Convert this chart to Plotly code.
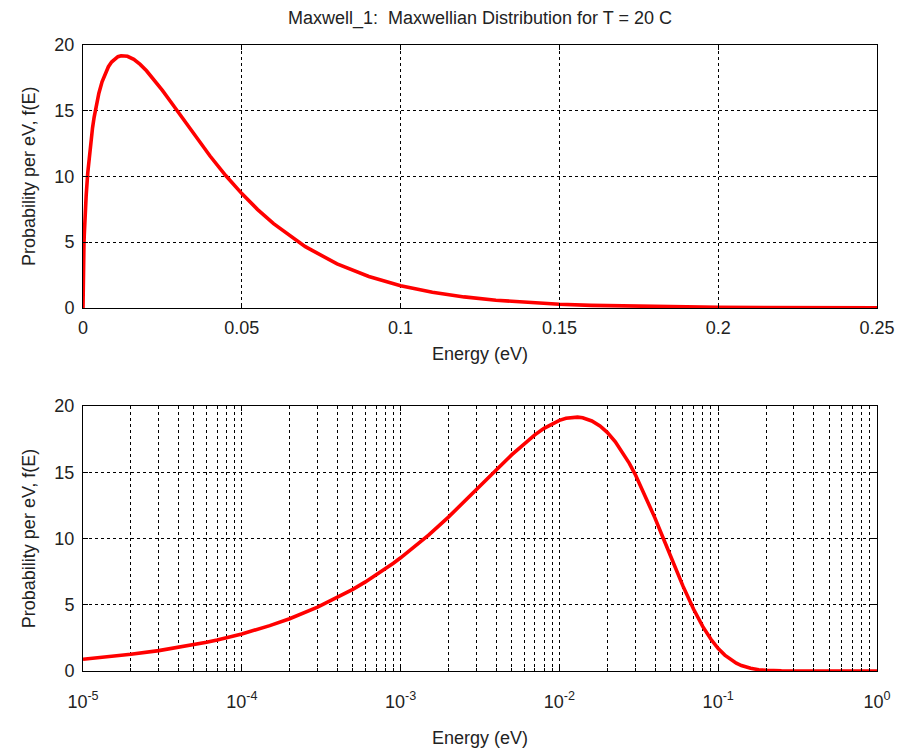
import plotly.graph_objects as go

# Energy (eV) and probability per eV
energy = [1e-5, 1.5e-5, 2e-5, 3e-5, 4e-5, 5e-5, 6e-5, 7e-5, 8e-5, 9e-5,
          1e-4, 1.5e-4, 2e-4, 3e-4, 4e-4, 5e-4, 6e-4, 7e-4, 8e-4, 9e-4,
          1e-3, 1.5e-3, 2e-3, 2.5e-3, 3e-3, 3.5e-3, 4e-3, 5e-3, 6e-3, 7e-3, 8e-3, 9e-3,
          0.010, 0.011, 0.012, 0.013, 0.014, 0.016, 0.018, 0.020, 0.0225, 0.025, 0.0275,
          0.030, 0.035, 0.040, 0.045, 0.050, 0.055, 0.060, 0.070, 0.080, 0.090,
          0.10, 0.11, 0.12, 0.13, 0.14, 0.15, 0.16, 0.18, 0.20, 0.25, 0.30, 0.40,
          0.50, 0.70, 1.0]
prob = [0.888, 1.088, 1.256, 1.538, 1.775, 1.983, 2.172, 2.345, 2.506, 2.657,
        2.799, 3.422, 3.943, 4.811, 5.533, 6.161, 6.723, 7.233, 7.702, 8.136,
        8.543, 10.258, 11.612, 12.728, 13.670, 14.476, 15.172, 16.304, 17.167, 17.823, 18.314, 18.671,
        18.917, 19.072, 19.147, 19.155, 19.106, 18.871, 18.492, 18.007, 17.301, 16.516, 15.691,
        14.845, 13.154, 11.537, 10.038, 8.682, 7.470, 6.402, 4.654, 3.349, 2.391,
        1.696, 1.197, 0.842, 0.590, 0.412, 0.287, 0.200, 0.096, 0.046, 0.007, 0.001, 0.0,
        0.0, 0.0, 0.0]
# the linear panel's curve also starts at the origin
origin_energy = [0.0]
origin_prob = [0.0]

title_text = "Maxwell_1:  Maxwellian Distribution for T = 20 C"
x_label = "Energy (eV)"
y_label = "Probability per eV, f(E)"
lin_ticks = [0, 0.05, 0.1, 0.15, 0.2, 0.25]
lin_ticktext = ["0", "0.05", "0.1", "0.15", "0.2", "0.25"]
log_ticks = [1e-5, 1e-4, 1e-3, 1e-2, 1e-1, 1]
log_ticktext = ["10<sup>-5</sup>", "10<sup>-4</sup>", "10<sup>-3</sup>",
                "10<sup>-2</sup>", "10<sup>-1</sup>", "10<sup>0</sup>"]
y_ticks = [0, 5, 10, 15, 20]

FONT = "Liberation Sans, Arial, sans-serif"
TXT = "#222222"
LINE = dict(color="#ff0000", width=3.6)
GRID = dict(showgrid=True, gridcolor="black", gridwidth=1, griddash="3px,3px")

fig = go.Figure()
fig.add_trace(go.Scatter(x=origin_energy + energy, y=origin_prob + prob, mode="lines",
                         line=LINE, xaxis="x", yaxis="y", showlegend=False))
fig.add_trace(go.Scatter(x=energy, y=prob, mode="lines", line=LINE,
                         xaxis="x2", yaxis="y2", showlegend=False))

axis_common = dict(showline=True, linecolor="black", linewidth=1, mirror="ticks",
                   ticks="inside", ticklen=5, tickcolor="black", zeroline=False,
                   automargin=False,
                   tickfont=dict(family=FONT, size=18, color=TXT),
                   title_font=dict(family=FONT, size=18, color=TXT), **GRID)

# page body has an 8px offset, so the figure is sized to the remaining viewport
fig.update_layout(
    width=896, height=745,
    paper_bgcolor="white", plot_bgcolor="white",
    margin=dict(l=0, r=0, t=0, b=0, autoexpand=False),
    font=dict(family=FONT, color=TXT),
    title=dict(text=title_text, x=0.5268, xanchor="center", y=0.987, yanchor="middle",
               font=dict(family=FONT, size=18, color=TXT)),
    xaxis=dict(domain=[0.0837, 0.9699], range=[0, 0.25], anchor="y",
               tickvals=lin_ticks, ticktext=lin_ticktext, ticklabelstandoff=3,
               title=dict(text=x_label, standoff=10), **axis_common),
    yaxis=dict(domain=[0.5973, 0.9510], range=[0, 20], anchor="x",
               tickvals=y_ticks, ticklabelstandoff=4,
               title=dict(text=y_label, standoff=14), **axis_common),
    xaxis2=dict(domain=[0.0837, 0.9699], type="log", range=[-5, 0], anchor="y2",
                tickvals=log_ticks, ticktext=log_ticktext, ticklabelstandoff=14,
                minor=dict(showgrid=True, gridcolor="black", gridwidth=1,
                           griddash="3px,3px", dtick="D1", ticks="inside",
                           ticklen=3, tickcolor="black"),
                title=dict(text=x_label, standoff=20), **axis_common),
    yaxis2=dict(domain=[0.1101, 0.4658], range=[0, 20], anchor="x2",
                tickvals=y_ticks, ticklabelstandoff=4,
                title=dict(text=y_label, standoff=14), **axis_common),
)

fig.write_html("out.html")
